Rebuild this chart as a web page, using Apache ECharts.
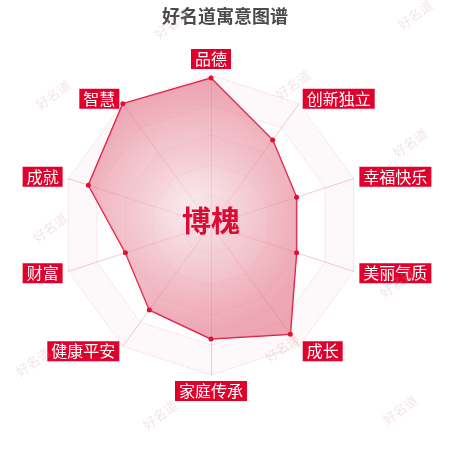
<!DOCTYPE html>
<html>
<head>
<meta charset="utf-8">
<script src="https://cdn.jsdelivr.net/npm/echarts@6/dist/echarts.min.js"></script>
<style>html,body{margin:0;padding:0;background:#fff;}#c{width:450px;height:450px;}</style>
</head>
<body>
<div id="c"></div>
<script>
const titleText = '好名道寓意图谱';
const centerName = '博槐';
// clockwise from the top
const indicators = ['品德','创新独立','幸福快乐','美丽气质','成长','家庭传承','健康平安','财富','成就','智慧'];
const maxValue = 100;
const values = [98, 70, 60, 60, 90, 76, 70, 60, 86, 100];
const watermarkText = '好名道';
const watermarkSpots = [[172,24],[415,15],[53,95],[293,85],[410,143],[50,228],[397,283],[282,348],[33,362],[160,415],[400,410]];

// ECharts lays indicators counter-clockwise: keep first, reverse the rest
const order = [0].concat(indicators.slice(1).map((_, i) => indicators.length - 1 - i));
const libIndicators = order.map(i => ({ name: indicators[i], max: maxValue }));
const libValues = order.map(i => values[i]);

const chart = echarts.init(document.getElementById('c'));
const wm = watermarkSpots.map(p => ({
  type: 'text', x: p[0], y: p[1], rotation: Math.PI / 5, z: 100,
  style: { text: watermarkText, fill: 'rgba(215,170,180,0.3)', font: '13px "Noto Sans CJK SC"', textAlign: 'center', textVerticalAlign: 'middle' }
}));
chart.setOption({
  backgroundColor: '#fff',
  title: {
    text: titleText, left: 'center', top: 2,
    textStyle: { fontSize: 18, fontWeight: 'bold', color: '#4a4a4a', fontFamily: 'Noto Sans CJK SC' }
  },
  graphic: wm.concat([{
    type: 'text', x: 211, y: 221, z: 50,
    style: { text: centerName, fill: '#dc0b36', font: 'bold 29px "Noto Sans CJK SC"', textAlign: 'center', textVerticalAlign: 'middle' }
  }]),
  radar: {
    center: [211, 225],
    radius: 150,
    splitNumber: 5,
    shape: 'polygon',
    startAngle: 90,
    indicator: libIndicators,
    nameGap: 6,
    axisName: {
      color: '#fff', backgroundColor: '#e0002b', padding: [2, 4],
      fontSize: 16, fontFamily: 'Noto Sans CJK SC', lineHeight: 16
    },
    axisLine: { lineStyle: { color: 'rgba(235,120,145,0.4)', width: 1 } },
    splitLine: { lineStyle: { color: 'rgba(230,160,175,0.45)', type: 'dotted', width: 1 } },
    splitArea: { areaStyle: { color: ['rgba(252,244,246,0.5)', 'rgba(255,255,255,0.5)'] } }
  },
  series: [{
    type: 'radar',
    symbol: 'circle', symbolSize: 5,
    lineStyle: { color: '#dd1038', width: 1.5 },
    itemStyle: { color: '#dd1038' },
    areaStyle: {
      color: {
        type: 'radial', x: 0.5, y: 0.5, r: 0.6,
        colorStops: [
          { offset: 0, color: 'rgba(246,225,230,0.9)' },
          { offset: 0.35, color: 'rgba(240,185,195,0.9)' },
          { offset: 1, color: 'rgba(226,112,133,0.88)' }
        ]
      }
    },
    data: [{ value: libValues }]
  }]
});
</script>
</body>
</html>
